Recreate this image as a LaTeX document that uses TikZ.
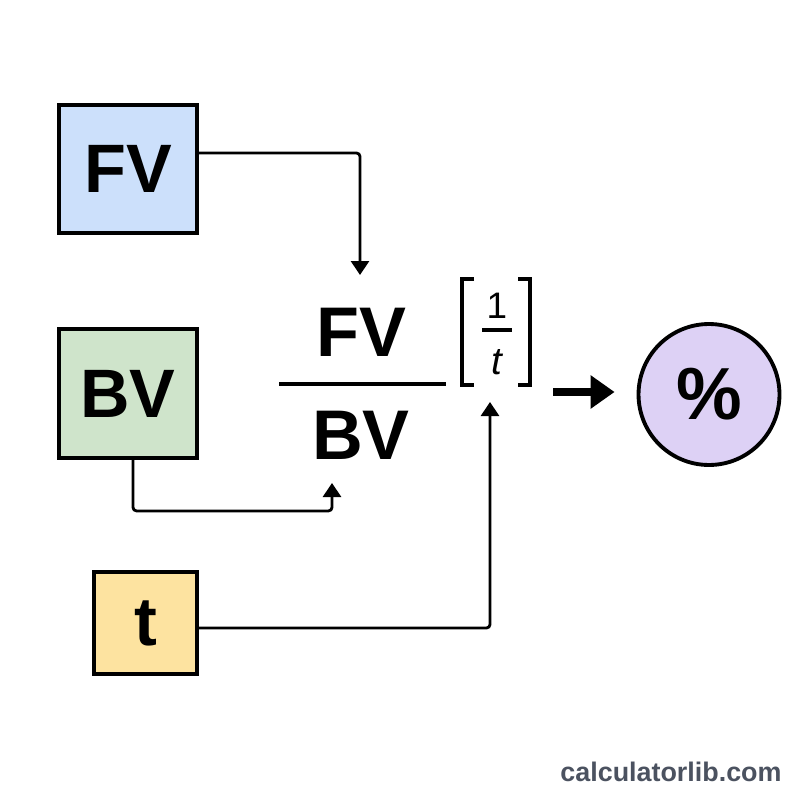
\documentclass[tikz,border=0pt]{standalone}
\usepackage{fontspec}
\setmainfont{Liberation Sans}
\usetikzlibrary{arrows.meta}
\definecolor{fvblue}{HTML}{CCE0FB}
\definecolor{bvgreen}{HTML}{CFE4CB}
\definecolor{tyellow}{HTML}{FDE3A0}
\definecolor{pctpurple}{HTML}{DDD1F5}
\definecolor{wmgray}{HTML}{4B5260}
\begin{document}
\begin{tikzpicture}[x=0.02cm,y=-0.02cm,
  inbox/.style={draw,line width=2.2pt,inner sep=0pt,font=\fontsize{39}{39}\selectfont\bfseries},
  conn/.style={line width=1.6pt,rounded corners=2pt,-{Triangle[width=0.36cm,length=0.28cm]}},
  big/.style={inner sep=0pt,font=\fontsize{40}{40}\selectfont\bfseries}]
  \useasboundingbox[fill=white] (0,0) rectangle (800,800);
  % inputs
  \node[inbox,fill=fvblue,minimum width=2.76cm,minimum height=2.56cm] (fv) at (128,169) {FV};
  \node[inbox,fill=bvgreen,minimum width=2.76cm,minimum height=2.58cm] (bv) at (128,393.5) {BV};
  \node[inbox,fill=tyellow,minimum width=2.06cm,minimum height=2.04cm] (t) at (145.5,623) {t};
  % ratio and exponent
  \node[big] (fvnum) at (361,332) {FV};
  \node[big] (bvden) at (361,435) {BV};
  \draw[line width=2.3pt] (279,384) -- (446,384);
  \draw[line width=2pt] (474,279) -| (462,385) -- (474,385);
  \draw[line width=2pt] (518,279) -| (530,385) -- (518,385);
  \node[inner sep=0pt,font=\fontsize{21}{21}\selectfont] (one) at (497,306) {1};
  \draw[line width=1.8pt] (482,330) -- (512,330);
  \node[inner sep=0pt,font=\fontsize{22}{22}\selectfont\itshape] (tden) at (497,362) {t};
  % result
  \node[circle,draw,line width=2.2pt,fill=pctpurple,minimum size=2.82cm,
    font=\fontsize{42}{42}\selectfont\bfseries] (pct) at (709,394.5) {\%};
  \coordinate (fvin) at (360,275);
  \coordinate (bvin) at (332,483);
  \coordinate (tin) at (490,402);
  \coordinate (ratein) at (553,392);
  \draw[conn] ([yshift=0.32cm]fv.east) -| (fvin);
  \draw[conn] ([xshift=0.1cm]bv.south) -- ++(0,51) -| (bvin);
  \draw[conn] ([yshift=-0.1cm]t.east) -| (tin);
  \draw[line width=4.3pt,-{Triangle[width=0.64cm,length=0.48cm]},shorten >=0.44cm]
    (ratein) -- (ratein -| pct.west);
  \node[font=\fontsize{15.3}{15.3}\selectfont\bfseries,text=wmgray] (site) at (671,772) {calculatorlib.com};
\end{tikzpicture}
\end{document}
